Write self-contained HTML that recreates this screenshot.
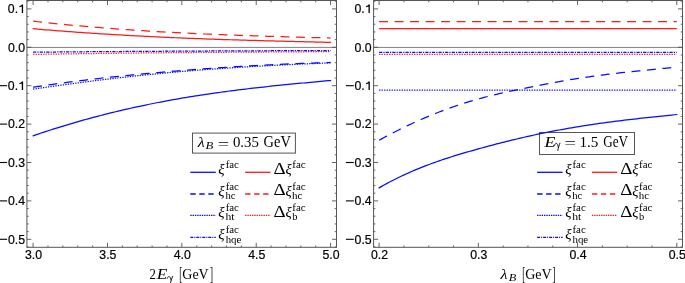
<!DOCTYPE html>
<html><head><meta charset="utf-8"><style>
html,body{margin:0;padding:0;background:#fff;}
body{width:685px;height:283px;overflow:hidden;font-family:"Liberation Sans",sans-serif;}
svg{display:block;will-change:transform;}
</style></head><body>
<svg width="685" height="283" viewBox="0 0 685 283">
<line x1="27.00" y1="47.40" x2="336.50" y2="47.40" stroke="#808080" stroke-width="1.0"/>
<line x1="373.60" y1="47.40" x2="682.50" y2="47.40" stroke="#808080" stroke-width="1.0"/>
<rect x="26.9" y="0.5" width="309.60" height="246.80" fill="none" stroke="#555555" stroke-width="1"/>
<line x1="26.90" y1="239.30" x2="31.40" y2="239.30" stroke="#555555" stroke-width="0.9"/>
<line x1="336.50" y1="239.30" x2="332.00" y2="239.30" stroke="#555555" stroke-width="0.9"/>
<line x1="26.90" y1="200.90" x2="31.40" y2="200.90" stroke="#555555" stroke-width="0.9"/>
<line x1="336.50" y1="200.90" x2="332.00" y2="200.90" stroke="#555555" stroke-width="0.9"/>
<line x1="26.90" y1="162.50" x2="31.40" y2="162.50" stroke="#555555" stroke-width="0.9"/>
<line x1="336.50" y1="162.50" x2="332.00" y2="162.50" stroke="#555555" stroke-width="0.9"/>
<line x1="26.90" y1="124.10" x2="31.40" y2="124.10" stroke="#555555" stroke-width="0.9"/>
<line x1="336.50" y1="124.10" x2="332.00" y2="124.10" stroke="#555555" stroke-width="0.9"/>
<line x1="26.90" y1="85.70" x2="31.40" y2="85.70" stroke="#555555" stroke-width="0.9"/>
<line x1="336.50" y1="85.70" x2="332.00" y2="85.70" stroke="#555555" stroke-width="0.9"/>
<line x1="26.90" y1="47.30" x2="31.40" y2="47.30" stroke="#555555" stroke-width="0.9"/>
<line x1="336.50" y1="47.30" x2="332.00" y2="47.30" stroke="#555555" stroke-width="0.9"/>
<line x1="26.90" y1="8.90" x2="31.40" y2="8.90" stroke="#555555" stroke-width="0.9"/>
<line x1="336.50" y1="8.90" x2="332.00" y2="8.90" stroke="#555555" stroke-width="0.9"/>
<line x1="26.90" y1="246.98" x2="28.70" y2="246.98" stroke="#555555" stroke-width="0.9"/>
<line x1="336.50" y1="246.98" x2="334.70" y2="246.98" stroke="#555555" stroke-width="0.9"/>
<line x1="26.90" y1="231.62" x2="28.70" y2="231.62" stroke="#555555" stroke-width="0.9"/>
<line x1="336.50" y1="231.62" x2="334.70" y2="231.62" stroke="#555555" stroke-width="0.9"/>
<line x1="26.90" y1="223.94" x2="28.70" y2="223.94" stroke="#555555" stroke-width="0.9"/>
<line x1="336.50" y1="223.94" x2="334.70" y2="223.94" stroke="#555555" stroke-width="0.9"/>
<line x1="26.90" y1="216.26" x2="28.70" y2="216.26" stroke="#555555" stroke-width="0.9"/>
<line x1="336.50" y1="216.26" x2="334.70" y2="216.26" stroke="#555555" stroke-width="0.9"/>
<line x1="26.90" y1="208.58" x2="28.70" y2="208.58" stroke="#555555" stroke-width="0.9"/>
<line x1="336.50" y1="208.58" x2="334.70" y2="208.58" stroke="#555555" stroke-width="0.9"/>
<line x1="26.90" y1="193.22" x2="28.70" y2="193.22" stroke="#555555" stroke-width="0.9"/>
<line x1="336.50" y1="193.22" x2="334.70" y2="193.22" stroke="#555555" stroke-width="0.9"/>
<line x1="26.90" y1="185.54" x2="28.70" y2="185.54" stroke="#555555" stroke-width="0.9"/>
<line x1="336.50" y1="185.54" x2="334.70" y2="185.54" stroke="#555555" stroke-width="0.9"/>
<line x1="26.90" y1="177.86" x2="28.70" y2="177.86" stroke="#555555" stroke-width="0.9"/>
<line x1="336.50" y1="177.86" x2="334.70" y2="177.86" stroke="#555555" stroke-width="0.9"/>
<line x1="26.90" y1="170.18" x2="28.70" y2="170.18" stroke="#555555" stroke-width="0.9"/>
<line x1="336.50" y1="170.18" x2="334.70" y2="170.18" stroke="#555555" stroke-width="0.9"/>
<line x1="26.90" y1="154.82" x2="28.70" y2="154.82" stroke="#555555" stroke-width="0.9"/>
<line x1="336.50" y1="154.82" x2="334.70" y2="154.82" stroke="#555555" stroke-width="0.9"/>
<line x1="26.90" y1="147.14" x2="28.70" y2="147.14" stroke="#555555" stroke-width="0.9"/>
<line x1="336.50" y1="147.14" x2="334.70" y2="147.14" stroke="#555555" stroke-width="0.9"/>
<line x1="26.90" y1="139.46" x2="28.70" y2="139.46" stroke="#555555" stroke-width="0.9"/>
<line x1="336.50" y1="139.46" x2="334.70" y2="139.46" stroke="#555555" stroke-width="0.9"/>
<line x1="26.90" y1="131.78" x2="28.70" y2="131.78" stroke="#555555" stroke-width="0.9"/>
<line x1="336.50" y1="131.78" x2="334.70" y2="131.78" stroke="#555555" stroke-width="0.9"/>
<line x1="26.90" y1="116.42" x2="28.70" y2="116.42" stroke="#555555" stroke-width="0.9"/>
<line x1="336.50" y1="116.42" x2="334.70" y2="116.42" stroke="#555555" stroke-width="0.9"/>
<line x1="26.90" y1="108.74" x2="28.70" y2="108.74" stroke="#555555" stroke-width="0.9"/>
<line x1="336.50" y1="108.74" x2="334.70" y2="108.74" stroke="#555555" stroke-width="0.9"/>
<line x1="26.90" y1="101.06" x2="28.70" y2="101.06" stroke="#555555" stroke-width="0.9"/>
<line x1="336.50" y1="101.06" x2="334.70" y2="101.06" stroke="#555555" stroke-width="0.9"/>
<line x1="26.90" y1="93.38" x2="28.70" y2="93.38" stroke="#555555" stroke-width="0.9"/>
<line x1="336.50" y1="93.38" x2="334.70" y2="93.38" stroke="#555555" stroke-width="0.9"/>
<line x1="26.90" y1="78.02" x2="28.70" y2="78.02" stroke="#555555" stroke-width="0.9"/>
<line x1="336.50" y1="78.02" x2="334.70" y2="78.02" stroke="#555555" stroke-width="0.9"/>
<line x1="26.90" y1="70.34" x2="28.70" y2="70.34" stroke="#555555" stroke-width="0.9"/>
<line x1="336.50" y1="70.34" x2="334.70" y2="70.34" stroke="#555555" stroke-width="0.9"/>
<line x1="26.90" y1="62.66" x2="28.70" y2="62.66" stroke="#555555" stroke-width="0.9"/>
<line x1="336.50" y1="62.66" x2="334.70" y2="62.66" stroke="#555555" stroke-width="0.9"/>
<line x1="26.90" y1="54.98" x2="28.70" y2="54.98" stroke="#555555" stroke-width="0.9"/>
<line x1="336.50" y1="54.98" x2="334.70" y2="54.98" stroke="#555555" stroke-width="0.9"/>
<line x1="26.90" y1="39.62" x2="28.70" y2="39.62" stroke="#555555" stroke-width="0.9"/>
<line x1="336.50" y1="39.62" x2="334.70" y2="39.62" stroke="#555555" stroke-width="0.9"/>
<line x1="26.90" y1="31.94" x2="28.70" y2="31.94" stroke="#555555" stroke-width="0.9"/>
<line x1="336.50" y1="31.94" x2="334.70" y2="31.94" stroke="#555555" stroke-width="0.9"/>
<line x1="26.90" y1="24.26" x2="28.70" y2="24.26" stroke="#555555" stroke-width="0.9"/>
<line x1="336.50" y1="24.26" x2="334.70" y2="24.26" stroke="#555555" stroke-width="0.9"/>
<line x1="26.90" y1="16.58" x2="28.70" y2="16.58" stroke="#555555" stroke-width="0.9"/>
<line x1="336.50" y1="16.58" x2="334.70" y2="16.58" stroke="#555555" stroke-width="0.9"/>
<line x1="26.90" y1="1.22" x2="28.70" y2="1.22" stroke="#555555" stroke-width="0.9"/>
<line x1="336.50" y1="1.22" x2="334.70" y2="1.22" stroke="#555555" stroke-width="0.9"/>
<line x1="33.10" y1="247.30" x2="33.10" y2="242.80" stroke="#555555" stroke-width="0.9"/>
<line x1="33.10" y1="0.50" x2="33.10" y2="5.00" stroke="#555555" stroke-width="0.9"/>
<line x1="107.47" y1="247.30" x2="107.47" y2="242.80" stroke="#555555" stroke-width="0.9"/>
<line x1="107.47" y1="0.50" x2="107.47" y2="5.00" stroke="#555555" stroke-width="0.9"/>
<line x1="181.85" y1="247.30" x2="181.85" y2="242.80" stroke="#555555" stroke-width="0.9"/>
<line x1="181.85" y1="0.50" x2="181.85" y2="5.00" stroke="#555555" stroke-width="0.9"/>
<line x1="256.23" y1="247.30" x2="256.23" y2="242.80" stroke="#555555" stroke-width="0.9"/>
<line x1="256.23" y1="0.50" x2="256.23" y2="5.00" stroke="#555555" stroke-width="0.9"/>
<line x1="330.60" y1="247.30" x2="330.60" y2="242.80" stroke="#555555" stroke-width="0.9"/>
<line x1="330.60" y1="0.50" x2="330.60" y2="5.00" stroke="#555555" stroke-width="0.9"/>
<line x1="47.98" y1="247.30" x2="47.98" y2="245.50" stroke="#555555" stroke-width="0.9"/>
<line x1="47.98" y1="0.50" x2="47.98" y2="2.30" stroke="#555555" stroke-width="0.9"/>
<line x1="62.85" y1="247.30" x2="62.85" y2="245.50" stroke="#555555" stroke-width="0.9"/>
<line x1="62.85" y1="0.50" x2="62.85" y2="2.30" stroke="#555555" stroke-width="0.9"/>
<line x1="77.72" y1="247.30" x2="77.72" y2="245.50" stroke="#555555" stroke-width="0.9"/>
<line x1="77.72" y1="0.50" x2="77.72" y2="2.30" stroke="#555555" stroke-width="0.9"/>
<line x1="92.60" y1="247.30" x2="92.60" y2="245.50" stroke="#555555" stroke-width="0.9"/>
<line x1="92.60" y1="0.50" x2="92.60" y2="2.30" stroke="#555555" stroke-width="0.9"/>
<line x1="122.35" y1="247.30" x2="122.35" y2="245.50" stroke="#555555" stroke-width="0.9"/>
<line x1="122.35" y1="0.50" x2="122.35" y2="2.30" stroke="#555555" stroke-width="0.9"/>
<line x1="137.23" y1="247.30" x2="137.23" y2="245.50" stroke="#555555" stroke-width="0.9"/>
<line x1="137.23" y1="0.50" x2="137.23" y2="2.30" stroke="#555555" stroke-width="0.9"/>
<line x1="152.10" y1="247.30" x2="152.10" y2="245.50" stroke="#555555" stroke-width="0.9"/>
<line x1="152.10" y1="0.50" x2="152.10" y2="2.30" stroke="#555555" stroke-width="0.9"/>
<line x1="166.97" y1="247.30" x2="166.97" y2="245.50" stroke="#555555" stroke-width="0.9"/>
<line x1="166.97" y1="0.50" x2="166.97" y2="2.30" stroke="#555555" stroke-width="0.9"/>
<line x1="196.72" y1="247.30" x2="196.72" y2="245.50" stroke="#555555" stroke-width="0.9"/>
<line x1="196.72" y1="0.50" x2="196.72" y2="2.30" stroke="#555555" stroke-width="0.9"/>
<line x1="211.60" y1="247.30" x2="211.60" y2="245.50" stroke="#555555" stroke-width="0.9"/>
<line x1="211.60" y1="0.50" x2="211.60" y2="2.30" stroke="#555555" stroke-width="0.9"/>
<line x1="226.47" y1="247.30" x2="226.47" y2="245.50" stroke="#555555" stroke-width="0.9"/>
<line x1="226.47" y1="0.50" x2="226.47" y2="2.30" stroke="#555555" stroke-width="0.9"/>
<line x1="241.35" y1="247.30" x2="241.35" y2="245.50" stroke="#555555" stroke-width="0.9"/>
<line x1="241.35" y1="0.50" x2="241.35" y2="2.30" stroke="#555555" stroke-width="0.9"/>
<line x1="271.10" y1="247.30" x2="271.10" y2="245.50" stroke="#555555" stroke-width="0.9"/>
<line x1="271.10" y1="0.50" x2="271.10" y2="2.30" stroke="#555555" stroke-width="0.9"/>
<line x1="285.98" y1="247.30" x2="285.98" y2="245.50" stroke="#555555" stroke-width="0.9"/>
<line x1="285.98" y1="0.50" x2="285.98" y2="2.30" stroke="#555555" stroke-width="0.9"/>
<line x1="300.85" y1="247.30" x2="300.85" y2="245.50" stroke="#555555" stroke-width="0.9"/>
<line x1="300.85" y1="0.50" x2="300.85" y2="2.30" stroke="#555555" stroke-width="0.9"/>
<line x1="315.73" y1="247.30" x2="315.73" y2="245.50" stroke="#555555" stroke-width="0.9"/>
<line x1="315.73" y1="0.50" x2="315.73" y2="2.30" stroke="#555555" stroke-width="0.9"/>
<line x1="-0.80" y1="239.30" x2="7.10" y2="239.30" stroke="#000" stroke-width="1.1"/>
<text x="25.00" y="243.60" text-anchor="end" font-family="Liberation Sans, sans-serif" stroke="#000" stroke-width="0.2" font-size="12.3">0.5</text>
<line x1="-0.80" y1="200.90" x2="7.10" y2="200.90" stroke="#000" stroke-width="1.1"/>
<text x="25.00" y="205.20" text-anchor="end" font-family="Liberation Sans, sans-serif" stroke="#000" stroke-width="0.2" font-size="12.3">0.4</text>
<line x1="-0.80" y1="162.50" x2="7.10" y2="162.50" stroke="#000" stroke-width="1.1"/>
<text x="25.00" y="166.80" text-anchor="end" font-family="Liberation Sans, sans-serif" stroke="#000" stroke-width="0.2" font-size="12.3">0.3</text>
<line x1="-0.80" y1="124.10" x2="7.10" y2="124.10" stroke="#000" stroke-width="1.1"/>
<text x="25.00" y="128.40" text-anchor="end" font-family="Liberation Sans, sans-serif" stroke="#000" stroke-width="0.2" font-size="12.3">0.2</text>
<line x1="-0.80" y1="85.70" x2="7.10" y2="85.70" stroke="#000" stroke-width="1.1"/>
<text x="18.10" y="90.00" text-anchor="end" font-family="Liberation Sans, sans-serif" stroke="#000" stroke-width="0.2" font-size="12.3">0.</text>
<path d="M22.45,90.00 L22.45,81.40 M22.80,81.60 C21.85,83.00 20.65,83.50 19.45,83.70" fill="none" stroke="#000" stroke-width="1.3"/>
<text x="25.00" y="51.60" text-anchor="end" font-family="Liberation Sans, sans-serif" stroke="#000" stroke-width="0.2" font-size="12.3">0.0</text>
<text x="18.10" y="13.20" text-anchor="end" font-family="Liberation Sans, sans-serif" stroke="#000" stroke-width="0.2" font-size="12.3">0.</text>
<path d="M22.45,13.00 L22.45,4.40 M22.80,4.60 C21.85,6.00 20.65,6.50 19.45,6.70" fill="none" stroke="#000" stroke-width="1.3"/>
<text x="33.55" y="259.2" text-anchor="middle" font-family="Liberation Sans, sans-serif" stroke="#000" stroke-width="0.2" font-size="12.3">3.0</text>
<text x="107.92" y="259.2" text-anchor="middle" font-family="Liberation Sans, sans-serif" stroke="#000" stroke-width="0.2" font-size="12.3">3.5</text>
<text x="182.30" y="259.2" text-anchor="middle" font-family="Liberation Sans, sans-serif" stroke="#000" stroke-width="0.2" font-size="12.3">4.0</text>
<text x="256.68" y="259.2" text-anchor="middle" font-family="Liberation Sans, sans-serif" stroke="#000" stroke-width="0.2" font-size="12.3">4.5</text>
<text x="331.05" y="259.2" text-anchor="middle" font-family="Liberation Sans, sans-serif" stroke="#000" stroke-width="0.2" font-size="12.3">5.0</text>
<rect x="373.6" y="0.5" width="308.90" height="246.80" fill="none" stroke="#555555" stroke-width="1"/>
<line x1="373.60" y1="239.30" x2="378.10" y2="239.30" stroke="#555555" stroke-width="0.9"/>
<line x1="682.50" y1="239.30" x2="678.00" y2="239.30" stroke="#555555" stroke-width="0.9"/>
<line x1="373.60" y1="200.90" x2="378.10" y2="200.90" stroke="#555555" stroke-width="0.9"/>
<line x1="682.50" y1="200.90" x2="678.00" y2="200.90" stroke="#555555" stroke-width="0.9"/>
<line x1="373.60" y1="162.50" x2="378.10" y2="162.50" stroke="#555555" stroke-width="0.9"/>
<line x1="682.50" y1="162.50" x2="678.00" y2="162.50" stroke="#555555" stroke-width="0.9"/>
<line x1="373.60" y1="124.10" x2="378.10" y2="124.10" stroke="#555555" stroke-width="0.9"/>
<line x1="682.50" y1="124.10" x2="678.00" y2="124.10" stroke="#555555" stroke-width="0.9"/>
<line x1="373.60" y1="85.70" x2="378.10" y2="85.70" stroke="#555555" stroke-width="0.9"/>
<line x1="682.50" y1="85.70" x2="678.00" y2="85.70" stroke="#555555" stroke-width="0.9"/>
<line x1="373.60" y1="47.30" x2="378.10" y2="47.30" stroke="#555555" stroke-width="0.9"/>
<line x1="682.50" y1="47.30" x2="678.00" y2="47.30" stroke="#555555" stroke-width="0.9"/>
<line x1="373.60" y1="8.90" x2="378.10" y2="8.90" stroke="#555555" stroke-width="0.9"/>
<line x1="682.50" y1="8.90" x2="678.00" y2="8.90" stroke="#555555" stroke-width="0.9"/>
<line x1="373.60" y1="246.98" x2="375.40" y2="246.98" stroke="#555555" stroke-width="0.9"/>
<line x1="682.50" y1="246.98" x2="680.70" y2="246.98" stroke="#555555" stroke-width="0.9"/>
<line x1="373.60" y1="231.62" x2="375.40" y2="231.62" stroke="#555555" stroke-width="0.9"/>
<line x1="682.50" y1="231.62" x2="680.70" y2="231.62" stroke="#555555" stroke-width="0.9"/>
<line x1="373.60" y1="223.94" x2="375.40" y2="223.94" stroke="#555555" stroke-width="0.9"/>
<line x1="682.50" y1="223.94" x2="680.70" y2="223.94" stroke="#555555" stroke-width="0.9"/>
<line x1="373.60" y1="216.26" x2="375.40" y2="216.26" stroke="#555555" stroke-width="0.9"/>
<line x1="682.50" y1="216.26" x2="680.70" y2="216.26" stroke="#555555" stroke-width="0.9"/>
<line x1="373.60" y1="208.58" x2="375.40" y2="208.58" stroke="#555555" stroke-width="0.9"/>
<line x1="682.50" y1="208.58" x2="680.70" y2="208.58" stroke="#555555" stroke-width="0.9"/>
<line x1="373.60" y1="193.22" x2="375.40" y2="193.22" stroke="#555555" stroke-width="0.9"/>
<line x1="682.50" y1="193.22" x2="680.70" y2="193.22" stroke="#555555" stroke-width="0.9"/>
<line x1="373.60" y1="185.54" x2="375.40" y2="185.54" stroke="#555555" stroke-width="0.9"/>
<line x1="682.50" y1="185.54" x2="680.70" y2="185.54" stroke="#555555" stroke-width="0.9"/>
<line x1="373.60" y1="177.86" x2="375.40" y2="177.86" stroke="#555555" stroke-width="0.9"/>
<line x1="682.50" y1="177.86" x2="680.70" y2="177.86" stroke="#555555" stroke-width="0.9"/>
<line x1="373.60" y1="170.18" x2="375.40" y2="170.18" stroke="#555555" stroke-width="0.9"/>
<line x1="682.50" y1="170.18" x2="680.70" y2="170.18" stroke="#555555" stroke-width="0.9"/>
<line x1="373.60" y1="154.82" x2="375.40" y2="154.82" stroke="#555555" stroke-width="0.9"/>
<line x1="682.50" y1="154.82" x2="680.70" y2="154.82" stroke="#555555" stroke-width="0.9"/>
<line x1="373.60" y1="147.14" x2="375.40" y2="147.14" stroke="#555555" stroke-width="0.9"/>
<line x1="682.50" y1="147.14" x2="680.70" y2="147.14" stroke="#555555" stroke-width="0.9"/>
<line x1="373.60" y1="139.46" x2="375.40" y2="139.46" stroke="#555555" stroke-width="0.9"/>
<line x1="682.50" y1="139.46" x2="680.70" y2="139.46" stroke="#555555" stroke-width="0.9"/>
<line x1="373.60" y1="131.78" x2="375.40" y2="131.78" stroke="#555555" stroke-width="0.9"/>
<line x1="682.50" y1="131.78" x2="680.70" y2="131.78" stroke="#555555" stroke-width="0.9"/>
<line x1="373.60" y1="116.42" x2="375.40" y2="116.42" stroke="#555555" stroke-width="0.9"/>
<line x1="682.50" y1="116.42" x2="680.70" y2="116.42" stroke="#555555" stroke-width="0.9"/>
<line x1="373.60" y1="108.74" x2="375.40" y2="108.74" stroke="#555555" stroke-width="0.9"/>
<line x1="682.50" y1="108.74" x2="680.70" y2="108.74" stroke="#555555" stroke-width="0.9"/>
<line x1="373.60" y1="101.06" x2="375.40" y2="101.06" stroke="#555555" stroke-width="0.9"/>
<line x1="682.50" y1="101.06" x2="680.70" y2="101.06" stroke="#555555" stroke-width="0.9"/>
<line x1="373.60" y1="93.38" x2="375.40" y2="93.38" stroke="#555555" stroke-width="0.9"/>
<line x1="682.50" y1="93.38" x2="680.70" y2="93.38" stroke="#555555" stroke-width="0.9"/>
<line x1="373.60" y1="78.02" x2="375.40" y2="78.02" stroke="#555555" stroke-width="0.9"/>
<line x1="682.50" y1="78.02" x2="680.70" y2="78.02" stroke="#555555" stroke-width="0.9"/>
<line x1="373.60" y1="70.34" x2="375.40" y2="70.34" stroke="#555555" stroke-width="0.9"/>
<line x1="682.50" y1="70.34" x2="680.70" y2="70.34" stroke="#555555" stroke-width="0.9"/>
<line x1="373.60" y1="62.66" x2="375.40" y2="62.66" stroke="#555555" stroke-width="0.9"/>
<line x1="682.50" y1="62.66" x2="680.70" y2="62.66" stroke="#555555" stroke-width="0.9"/>
<line x1="373.60" y1="54.98" x2="375.40" y2="54.98" stroke="#555555" stroke-width="0.9"/>
<line x1="682.50" y1="54.98" x2="680.70" y2="54.98" stroke="#555555" stroke-width="0.9"/>
<line x1="373.60" y1="39.62" x2="375.40" y2="39.62" stroke="#555555" stroke-width="0.9"/>
<line x1="682.50" y1="39.62" x2="680.70" y2="39.62" stroke="#555555" stroke-width="0.9"/>
<line x1="373.60" y1="31.94" x2="375.40" y2="31.94" stroke="#555555" stroke-width="0.9"/>
<line x1="682.50" y1="31.94" x2="680.70" y2="31.94" stroke="#555555" stroke-width="0.9"/>
<line x1="373.60" y1="24.26" x2="375.40" y2="24.26" stroke="#555555" stroke-width="0.9"/>
<line x1="682.50" y1="24.26" x2="680.70" y2="24.26" stroke="#555555" stroke-width="0.9"/>
<line x1="373.60" y1="16.58" x2="375.40" y2="16.58" stroke="#555555" stroke-width="0.9"/>
<line x1="682.50" y1="16.58" x2="680.70" y2="16.58" stroke="#555555" stroke-width="0.9"/>
<line x1="373.60" y1="1.22" x2="375.40" y2="1.22" stroke="#555555" stroke-width="0.9"/>
<line x1="682.50" y1="1.22" x2="680.70" y2="1.22" stroke="#555555" stroke-width="0.9"/>
<line x1="379.10" y1="247.30" x2="379.10" y2="242.80" stroke="#555555" stroke-width="0.9"/>
<line x1="379.10" y1="0.50" x2="379.10" y2="5.00" stroke="#555555" stroke-width="0.9"/>
<line x1="478.33" y1="247.30" x2="478.33" y2="242.80" stroke="#555555" stroke-width="0.9"/>
<line x1="478.33" y1="0.50" x2="478.33" y2="5.00" stroke="#555555" stroke-width="0.9"/>
<line x1="577.56" y1="247.30" x2="577.56" y2="242.80" stroke="#555555" stroke-width="0.9"/>
<line x1="577.56" y1="0.50" x2="577.56" y2="5.00" stroke="#555555" stroke-width="0.9"/>
<line x1="676.79" y1="247.30" x2="676.79" y2="242.80" stroke="#555555" stroke-width="0.9"/>
<line x1="676.79" y1="0.50" x2="676.79" y2="5.00" stroke="#555555" stroke-width="0.9"/>
<line x1="403.91" y1="247.30" x2="403.91" y2="245.50" stroke="#555555" stroke-width="0.9"/>
<line x1="403.91" y1="0.50" x2="403.91" y2="2.30" stroke="#555555" stroke-width="0.9"/>
<line x1="428.72" y1="247.30" x2="428.72" y2="245.50" stroke="#555555" stroke-width="0.9"/>
<line x1="428.72" y1="0.50" x2="428.72" y2="2.30" stroke="#555555" stroke-width="0.9"/>
<line x1="453.52" y1="247.30" x2="453.52" y2="245.50" stroke="#555555" stroke-width="0.9"/>
<line x1="453.52" y1="0.50" x2="453.52" y2="2.30" stroke="#555555" stroke-width="0.9"/>
<line x1="503.14" y1="247.30" x2="503.14" y2="245.50" stroke="#555555" stroke-width="0.9"/>
<line x1="503.14" y1="0.50" x2="503.14" y2="2.30" stroke="#555555" stroke-width="0.9"/>
<line x1="527.95" y1="247.30" x2="527.95" y2="245.50" stroke="#555555" stroke-width="0.9"/>
<line x1="527.95" y1="0.50" x2="527.95" y2="2.30" stroke="#555555" stroke-width="0.9"/>
<line x1="552.75" y1="247.30" x2="552.75" y2="245.50" stroke="#555555" stroke-width="0.9"/>
<line x1="552.75" y1="0.50" x2="552.75" y2="2.30" stroke="#555555" stroke-width="0.9"/>
<line x1="602.37" y1="247.30" x2="602.37" y2="245.50" stroke="#555555" stroke-width="0.9"/>
<line x1="602.37" y1="0.50" x2="602.37" y2="2.30" stroke="#555555" stroke-width="0.9"/>
<line x1="627.17" y1="247.30" x2="627.17" y2="245.50" stroke="#555555" stroke-width="0.9"/>
<line x1="627.17" y1="0.50" x2="627.17" y2="2.30" stroke="#555555" stroke-width="0.9"/>
<line x1="651.98" y1="247.30" x2="651.98" y2="245.50" stroke="#555555" stroke-width="0.9"/>
<line x1="651.98" y1="0.50" x2="651.98" y2="2.30" stroke="#555555" stroke-width="0.9"/>
<line x1="345.90" y1="239.30" x2="353.80" y2="239.30" stroke="#000" stroke-width="1.1"/>
<text x="371.70" y="243.60" text-anchor="end" font-family="Liberation Sans, sans-serif" stroke="#000" stroke-width="0.2" font-size="12.3">0.5</text>
<line x1="345.90" y1="200.90" x2="353.80" y2="200.90" stroke="#000" stroke-width="1.1"/>
<text x="371.70" y="205.20" text-anchor="end" font-family="Liberation Sans, sans-serif" stroke="#000" stroke-width="0.2" font-size="12.3">0.4</text>
<line x1="345.90" y1="162.50" x2="353.80" y2="162.50" stroke="#000" stroke-width="1.1"/>
<text x="371.70" y="166.80" text-anchor="end" font-family="Liberation Sans, sans-serif" stroke="#000" stroke-width="0.2" font-size="12.3">0.3</text>
<line x1="345.90" y1="124.10" x2="353.80" y2="124.10" stroke="#000" stroke-width="1.1"/>
<text x="371.70" y="128.40" text-anchor="end" font-family="Liberation Sans, sans-serif" stroke="#000" stroke-width="0.2" font-size="12.3">0.2</text>
<line x1="345.90" y1="85.70" x2="353.80" y2="85.70" stroke="#000" stroke-width="1.1"/>
<text x="364.80" y="90.00" text-anchor="end" font-family="Liberation Sans, sans-serif" stroke="#000" stroke-width="0.2" font-size="12.3">0.</text>
<path d="M369.15,90.00 L369.15,81.40 M369.50,81.60 C368.55,83.00 367.35,83.50 366.15,83.70" fill="none" stroke="#000" stroke-width="1.3"/>
<text x="371.70" y="51.60" text-anchor="end" font-family="Liberation Sans, sans-serif" stroke="#000" stroke-width="0.2" font-size="12.3">0.0</text>
<text x="364.80" y="13.20" text-anchor="end" font-family="Liberation Sans, sans-serif" stroke="#000" stroke-width="0.2" font-size="12.3">0.</text>
<path d="M369.15,13.00 L369.15,4.40 M369.50,4.60 C368.55,6.00 367.35,6.50 366.15,6.70" fill="none" stroke="#000" stroke-width="1.3"/>
<text x="379.55" y="259.2" text-anchor="middle" font-family="Liberation Sans, sans-serif" stroke="#000" stroke-width="0.2" font-size="12.3">0.2</text>
<text x="478.78" y="259.2" text-anchor="middle" font-family="Liberation Sans, sans-serif" stroke="#000" stroke-width="0.2" font-size="12.3">0.3</text>
<text x="578.01" y="259.2" text-anchor="middle" font-family="Liberation Sans, sans-serif" stroke="#000" stroke-width="0.2" font-size="12.3">0.4</text>
<text x="677.24" y="259.2" text-anchor="middle" font-family="Liberation Sans, sans-serif" stroke="#000" stroke-width="0.2" font-size="12.3">0.5</text>
<text transform="translate(149.49,278.60) scale(0.8500,1.0051)" x="0" y="0" font-family="Liberation Serif, serif" font-size="15.0" fill="#000">2</text>
<text transform="translate(156.77,278.60) scale(1.1458,1.0051)" x="0" y="0" font-family="Liberation Serif, serif" font-style="italic" font-size="15.0" fill="#000">E</text>
<path d="M167.27,278.31 C167.78,276.23 169.66,275.70 170.52,278.24 L171.09,279.99 M172.63,276.44 C171.95,278.11 170.86,280.25 170.52,282.67" fill="none" stroke="#000" stroke-width="0.9" stroke-linecap="round"/>
<text transform="translate(179.19,280.16) scale(0.5797,1.2520)" x="0" y="0" font-family="Liberation Serif, serif" font-size="15.0" fill="#000">[</text>
<text transform="translate(182.34,278.69) scale(0.9312,1.0348)" x="0" y="0" font-family="Liberation Serif, serif" font-size="15.0" fill="#000">GeV</text>
<text transform="translate(209.94,280.16) scale(0.6061,1.2520)" x="0" y="0" font-family="Liberation Serif, serif" font-size="15.0" fill="#000">]</text>
<text transform="translate(500.57,279.00) scale(1.0701,1.0095)" x="0" y="0" font-family="Liberation Serif, serif" font-style="italic" font-size="15.0" fill="#000">λ</text>
<text transform="translate(508.74,280.80) scale(1.2369,1.0308)" x="0" y="0" font-family="Liberation Serif, serif" font-style="italic" font-size="10" fill="#000">B</text>
<text transform="translate(522.29,280.16) scale(0.5797,1.2520)" x="0" y="0" font-family="Liberation Serif, serif" font-size="15.0" fill="#000">[</text>
<text transform="translate(525.24,278.69) scale(0.9348,1.0348)" x="0" y="0" font-family="Liberation Serif, serif" font-size="15.0" fill="#000">GeV</text>
<text transform="translate(552.44,280.16) scale(0.6061,1.2520)" x="0" y="0" font-family="Liberation Serif, serif" font-size="15.0" fill="#000">]</text>
<rect x="192.5" y="133.1" width="102.90" height="20.00" fill="white" stroke="#555" stroke-width="1"/>
<text transform="translate(197.87,147.40) scale(1.0701,1.0095)" x="0" y="0" font-family="Liberation Serif, serif" font-style="italic" font-size="15.0" fill="#000">λ</text>
<text transform="translate(205.48,149.40) scale(1.2738,1.0615)" x="0" y="0" font-family="Liberation Serif, serif" font-style="italic" font-size="10" fill="#000">B</text>
<text transform="translate(217.69,148.98) scale(1.3475,1.0400)" x="0" y="0" font-family="Liberation Serif, serif" font-size="15.0" fill="#000">=</text>
<text transform="translate(232.91,147.29) scale(0.9900,1.0348)" x="0" y="0" font-family="Liberation Serif, serif" font-size="15.0" fill="#000">0.35</text>
<text transform="translate(263.62,147.28) scale(0.9601,1.0746)" x="0" y="0" font-family="Liberation Serif, serif" font-size="15.0" fill="#000">GeV</text>
<line x1="190.30" y1="172.30" x2="215.80" y2="172.30" stroke="#0a0aff" stroke-width="1.3"/>
<text transform="translate(218.36,174.33) scale(0.9833,1.0268)" x="0" y="0" font-family="Liberation Serif, serif" font-style="italic" font-size="15.0" fill="#000">ξ</text>
<text transform="translate(225.67,167.61) scale(1.0862,0.9306)" x="0" y="0" font-family="Liberation Serif, serif" font-size="10" fill="#000">fac</text>
<line x1="245.10" y1="172.30" x2="270.50" y2="172.30" stroke="#ff1a1a" stroke-width="1.3"/>
<text transform="translate(273.44,173.50) scale(1.2632,1.0505)" x="0" y="0" font-family="Liberation Serif, serif" font-size="15.0" fill="#000">Δ</text>
<text transform="translate(285.56,174.33) scale(0.9667,1.0268)" x="0" y="0" font-family="Liberation Serif, serif" font-style="italic" font-size="15.0" fill="#000">ξ</text>
<text transform="translate(292.27,167.61) scale(1.0948,0.9306)" x="0" y="0" font-family="Liberation Serif, serif" font-size="10" fill="#000">fac</text>
<line x1="190.30" y1="194.00" x2="215.80" y2="194.00" stroke="#0a0aff" stroke-width="1.3" stroke-dasharray="5.4 3.6"/>
<text transform="translate(218.36,196.23) scale(0.9833,1.0268)" x="0" y="0" font-family="Liberation Serif, serif" font-style="italic" font-size="15.0" fill="#000">ξ</text>
<text transform="translate(225.67,189.51) scale(1.0862,0.9306)" x="0" y="0" font-family="Liberation Serif, serif" font-size="10" fill="#000">fac</text>
<text transform="translate(225.39,199.00) scale(1.0667,1.0286)" x="0" y="0" font-family="Liberation Serif, serif" font-size="10" fill="#000">hc</text>
<line x1="245.10" y1="194.00" x2="270.50" y2="194.00" stroke="#ff1a1a" stroke-width="1.3" stroke-dasharray="5.4 3.6"/>
<text transform="translate(273.44,195.40) scale(1.2632,1.0505)" x="0" y="0" font-family="Liberation Serif, serif" font-size="15.0" fill="#000">Δ</text>
<text transform="translate(285.56,196.23) scale(0.9667,1.0268)" x="0" y="0" font-family="Liberation Serif, serif" font-style="italic" font-size="15.0" fill="#000">ξ</text>
<text transform="translate(292.27,189.51) scale(1.0948,0.9306)" x="0" y="0" font-family="Liberation Serif, serif" font-size="10" fill="#000">fac</text>
<text transform="translate(291.89,199.00) scale(1.1000,1.0286)" x="0" y="0" font-family="Liberation Serif, serif" font-size="10" fill="#000">hc</text>
<line x1="190.30" y1="215.40" x2="215.80" y2="215.40" stroke="#0a0aff" stroke-width="1.3" stroke-dasharray="1.4 0.9"/>
<text transform="translate(218.36,217.43) scale(0.9833,1.0268)" x="0" y="0" font-family="Liberation Serif, serif" font-style="italic" font-size="15.0" fill="#000">ξ</text>
<text transform="translate(225.67,210.71) scale(1.0862,0.9306)" x="0" y="0" font-family="Liberation Serif, serif" font-size="10" fill="#000">fac</text>
<text transform="translate(225.38,220.30) scale(1.1711,1.0000)" x="0" y="0" font-family="Liberation Serif, serif" font-size="10" fill="#000">ht</text>
<line x1="245.10" y1="215.40" x2="270.50" y2="215.40" stroke="#ff1a1a" stroke-width="1.3" stroke-dasharray="1.4 0.9"/>
<text transform="translate(273.44,216.60) scale(1.2632,1.0505)" x="0" y="0" font-family="Liberation Serif, serif" font-size="15.0" fill="#000">Δ</text>
<text transform="translate(285.56,217.43) scale(0.9667,1.0268)" x="0" y="0" font-family="Liberation Serif, serif" font-style="italic" font-size="15.0" fill="#000">ξ</text>
<text transform="translate(292.27,210.71) scale(1.0948,0.9306)" x="0" y="0" font-family="Liberation Serif, serif" font-size="10" fill="#000">fac</text>
<text transform="translate(292.20,220.30) scale(1.0435,1.0000)" x="0" y="0" font-family="Liberation Serif, serif" font-size="10" fill="#000">b</text>
<line x1="190.30" y1="237.40" x2="215.80" y2="237.40" stroke="#0a0aff" stroke-width="1.3" stroke-dasharray="3.0 1.0 1.0 1.0"/>
<text transform="translate(218.36,239.23) scale(0.9833,1.0268)" x="0" y="0" font-family="Liberation Serif, serif" font-style="italic" font-size="15.0" fill="#000">ξ</text>
<text transform="translate(225.67,232.51) scale(1.0862,0.9306)" x="0" y="0" font-family="Liberation Serif, serif" font-size="10" fill="#000">fac</text>
<text transform="translate(225.69,242.64) scale(1.0857,1.1222)" x="0" y="0" font-family="Liberation Serif, serif" font-size="10" fill="#000">hqe</text>
<rect x="539.5" y="132.5" width="95.00" height="22.00" fill="white" stroke="#555" stroke-width="1"/>
<text transform="translate(544.51,146.70) scale(1.1809,1.0359)" x="0" y="0" font-family="Liberation Serif, serif" font-style="italic" font-size="15.0" fill="#000">E</text>
<path d="M554.57,145.37 C555.08,142.96 556.97,142.33 557.82,145.30 L558.39,147.32 M559.93,143.19 C559.25,145.14 558.16,147.64 557.82,150.44" fill="none" stroke="#000" stroke-width="0.9" stroke-linecap="round"/>
<text transform="translate(564.39,147.89) scale(1.3475,1.0133)" x="0" y="0" font-family="Liberation Serif, serif" font-size="15.0" fill="#000">=</text>
<text transform="translate(579.43,146.84) scale(1.0119,1.0348)" x="0" y="0" font-family="Liberation Serif, serif" font-size="15.0" fill="#000">1.5</text>
<text transform="translate(603.27,146.68) scale(0.8768,1.0647)" x="0" y="0" font-family="Liberation Serif, serif" font-size="15.0" fill="#000">GeV</text>
<line x1="537.10" y1="172.30" x2="562.60" y2="172.30" stroke="#0a0aff" stroke-width="1.3"/>
<text transform="translate(565.16,174.33) scale(0.9833,1.0268)" x="0" y="0" font-family="Liberation Serif, serif" font-style="italic" font-size="15.0" fill="#000">ξ</text>
<text transform="translate(572.47,167.61) scale(1.0862,0.9306)" x="0" y="0" font-family="Liberation Serif, serif" font-size="10" fill="#000">fac</text>
<line x1="591.90" y1="172.30" x2="617.30" y2="172.30" stroke="#ff1a1a" stroke-width="1.3"/>
<text transform="translate(620.24,173.50) scale(1.2632,1.0505)" x="0" y="0" font-family="Liberation Serif, serif" font-size="15.0" fill="#000">Δ</text>
<text transform="translate(632.36,174.33) scale(0.9667,1.0268)" x="0" y="0" font-family="Liberation Serif, serif" font-style="italic" font-size="15.0" fill="#000">ξ</text>
<text transform="translate(639.07,167.61) scale(1.0948,0.9306)" x="0" y="0" font-family="Liberation Serif, serif" font-size="10" fill="#000">fac</text>
<line x1="537.10" y1="194.00" x2="562.60" y2="194.00" stroke="#0a0aff" stroke-width="1.3" stroke-dasharray="5.4 3.6"/>
<text transform="translate(565.16,196.23) scale(0.9833,1.0268)" x="0" y="0" font-family="Liberation Serif, serif" font-style="italic" font-size="15.0" fill="#000">ξ</text>
<text transform="translate(572.47,189.51) scale(1.0862,0.9306)" x="0" y="0" font-family="Liberation Serif, serif" font-size="10" fill="#000">fac</text>
<text transform="translate(572.19,199.00) scale(1.0667,1.0286)" x="0" y="0" font-family="Liberation Serif, serif" font-size="10" fill="#000">hc</text>
<line x1="591.90" y1="194.00" x2="617.30" y2="194.00" stroke="#ff1a1a" stroke-width="1.3" stroke-dasharray="5.4 3.6"/>
<text transform="translate(620.24,195.40) scale(1.2632,1.0505)" x="0" y="0" font-family="Liberation Serif, serif" font-size="15.0" fill="#000">Δ</text>
<text transform="translate(632.36,196.23) scale(0.9667,1.0268)" x="0" y="0" font-family="Liberation Serif, serif" font-style="italic" font-size="15.0" fill="#000">ξ</text>
<text transform="translate(639.07,189.51) scale(1.0948,0.9306)" x="0" y="0" font-family="Liberation Serif, serif" font-size="10" fill="#000">fac</text>
<text transform="translate(638.69,199.00) scale(1.1000,1.0286)" x="0" y="0" font-family="Liberation Serif, serif" font-size="10" fill="#000">hc</text>
<line x1="537.10" y1="215.40" x2="562.60" y2="215.40" stroke="#0a0aff" stroke-width="1.3" stroke-dasharray="1.4 0.9"/>
<text transform="translate(565.16,217.43) scale(0.9833,1.0268)" x="0" y="0" font-family="Liberation Serif, serif" font-style="italic" font-size="15.0" fill="#000">ξ</text>
<text transform="translate(572.47,210.71) scale(1.0862,0.9306)" x="0" y="0" font-family="Liberation Serif, serif" font-size="10" fill="#000">fac</text>
<text transform="translate(572.18,220.30) scale(1.1711,1.0000)" x="0" y="0" font-family="Liberation Serif, serif" font-size="10" fill="#000">ht</text>
<line x1="591.90" y1="215.40" x2="617.30" y2="215.40" stroke="#ff1a1a" stroke-width="1.3" stroke-dasharray="1.4 0.9"/>
<text transform="translate(620.24,216.60) scale(1.2632,1.0505)" x="0" y="0" font-family="Liberation Serif, serif" font-size="15.0" fill="#000">Δ</text>
<text transform="translate(632.36,217.43) scale(0.9667,1.0268)" x="0" y="0" font-family="Liberation Serif, serif" font-style="italic" font-size="15.0" fill="#000">ξ</text>
<text transform="translate(639.07,210.71) scale(1.0948,0.9306)" x="0" y="0" font-family="Liberation Serif, serif" font-size="10" fill="#000">fac</text>
<text transform="translate(639.00,220.30) scale(1.0435,1.0000)" x="0" y="0" font-family="Liberation Serif, serif" font-size="10" fill="#000">b</text>
<line x1="537.10" y1="237.40" x2="562.60" y2="237.40" stroke="#0a0aff" stroke-width="1.3" stroke-dasharray="3.0 1.0 1.0 1.0"/>
<text transform="translate(565.16,239.23) scale(0.9833,1.0268)" x="0" y="0" font-family="Liberation Serif, serif" font-style="italic" font-size="15.0" fill="#000">ξ</text>
<text transform="translate(572.47,232.51) scale(1.0862,0.9306)" x="0" y="0" font-family="Liberation Serif, serif" font-size="10" fill="#000">fac</text>
<text transform="translate(572.49,242.64) scale(1.0857,1.1222)" x="0" y="0" font-family="Liberation Serif, serif" font-size="10" fill="#000">hqe</text>
<path d="M33.10,54.40 L35.60,54.36 L38.10,54.33 L40.60,54.29 L43.10,54.25 L45.60,54.21 L48.10,54.17 L50.60,54.14 L53.10,54.10 L55.60,54.06 L58.10,54.02 L60.60,53.99 L63.10,53.95 L65.60,53.92 L68.10,53.88 L70.60,53.85 L73.10,53.81 L75.60,53.78 L78.10,53.74 L80.60,53.71 L83.10,53.68 L85.60,53.64 L88.10,53.61 L90.60,53.58 L93.10,53.55 L95.60,53.51 L98.10,53.48 L100.60,53.45 L103.10,53.42 L105.60,53.39 L108.10,53.36 L110.60,53.33 L113.10,53.30 L115.60,53.27 L118.10,53.24 L120.60,53.21 L123.10,53.18 L125.60,53.16 L128.10,53.13 L130.60,53.10 L133.10,53.07 L135.60,53.05 L138.10,53.02 L140.60,52.99 L143.10,52.97 L145.60,52.94 L148.10,52.92 L150.60,52.89 L153.10,52.86 L155.60,52.84 L158.10,52.82 L160.60,52.79 L163.10,52.77 L165.60,52.74 L168.10,52.72 L170.60,52.70 L173.10,52.68 L175.60,52.65 L178.10,52.63 L180.60,52.61 L183.10,52.59 L185.60,52.57 L188.10,52.55 L190.60,52.53 L193.10,52.51 L195.60,52.49 L198.10,52.47 L200.60,52.45 L203.10,52.43 L205.60,52.41 L208.10,52.39 L210.60,52.37 L213.10,52.35 L215.60,52.33 L218.10,52.32 L220.60,52.30 L223.10,52.28 L225.60,52.26 L228.10,52.25 L230.60,52.23 L233.10,52.21 L235.60,52.20 L238.10,52.18 L240.60,52.16 L243.10,52.15 L245.60,52.13 L248.10,52.11 L250.60,52.10 L253.10,52.08 L255.60,52.07 L258.10,52.05 L260.60,52.03 L263.10,52.02 L265.60,52.00 L268.10,51.99 L270.60,51.97 L273.10,51.96 L275.60,51.94 L278.10,51.93 L280.60,51.91 L283.10,51.90 L285.60,51.88 L288.10,51.87 L290.60,51.85 L293.10,51.83 L295.60,51.82 L298.10,51.80 L300.60,51.79 L303.10,51.77 L305.60,51.76 L308.10,51.74 L310.60,51.73 L313.10,51.71 L315.60,51.70 L318.10,51.68 L320.60,51.66 L323.10,51.65 L325.60,51.63 L328.10,51.62 L330.60,51.60" fill="none" stroke="#ff1a1a" stroke-width="1.25" stroke-dasharray="1.3 1.2" stroke-linejoin="round"/>
<path d="M33.10,52.22 L35.60,52.19 L38.10,52.17 L40.60,52.14 L43.10,52.12 L45.60,52.10 L48.10,52.08 L50.60,52.05 L53.10,52.03 L55.60,52.01 L58.10,51.99 L60.60,51.97 L63.10,51.95 L65.60,51.92 L68.10,51.90 L70.60,51.88 L73.10,51.86 L75.60,51.84 L78.10,51.82 L80.60,51.80 L83.10,51.78 L85.60,51.76 L88.10,51.74 L90.60,51.72 L93.10,51.71 L95.60,51.69 L98.10,51.67 L100.60,51.65 L103.10,51.63 L105.60,51.61 L108.10,51.60 L110.60,51.58 L113.10,51.56 L115.60,51.54 L118.10,51.53 L120.60,51.51 L123.10,51.49 L125.60,51.48 L128.10,51.46 L130.60,51.44 L133.10,51.43 L135.60,51.41 L138.10,51.40 L140.60,51.38 L143.10,51.36 L145.60,51.35 L148.10,51.33 L150.60,51.32 L153.10,51.30 L155.60,51.29 L158.10,51.27 L160.60,51.26 L163.10,51.24 L165.60,51.23 L168.10,51.22 L170.60,51.20 L173.10,51.19 L175.60,51.17 L178.10,51.16 L180.60,51.15 L183.10,51.13 L185.60,51.12 L188.10,51.11 L190.60,51.09 L193.10,51.08 L195.60,51.07 L198.10,51.05 L200.60,51.04 L203.10,51.03 L205.60,51.02 L208.10,51.00 L210.60,50.99 L213.10,50.98 L215.60,50.97 L218.10,50.96 L220.60,50.94 L223.10,50.93 L225.60,50.92 L228.10,50.91 L230.60,50.90 L233.10,50.89 L235.60,50.88 L238.10,50.87 L240.60,50.86 L243.10,50.85 L245.60,50.84 L248.10,50.83 L250.60,50.82 L253.10,50.81 L255.60,50.80 L258.10,50.79 L260.60,50.78 L263.10,50.77 L265.60,50.76 L268.10,50.75 L270.60,50.74 L273.10,50.74 L275.60,50.73 L278.10,50.72 L280.60,50.71 L283.10,50.70 L285.60,50.70 L288.10,50.69 L290.60,50.68 L293.10,50.68 L295.60,50.67 L298.10,50.66 L300.60,50.66 L303.10,50.65 L305.60,50.65 L308.10,50.64 L310.60,50.64 L313.10,50.63 L315.60,50.63 L318.10,50.62 L320.60,50.62 L323.10,50.61 L325.60,50.61 L328.10,50.61 L330.60,50.60" fill="none" stroke="#0a0aff" stroke-width="1.25" stroke-dasharray="3.2 1.1 1.2 1.1" stroke-linejoin="round"/>
<path d="M33.10,89.16 L35.60,88.79 L38.10,88.42 L40.60,88.06 L43.10,87.70 L45.60,87.34 L48.10,86.98 L50.60,86.62 L53.10,86.27 L55.60,85.92 L58.10,85.57 L60.60,85.22 L63.10,84.88 L65.60,84.54 L68.10,84.20 L70.60,83.86 L73.10,83.53 L75.60,83.19 L78.10,82.86 L80.60,82.54 L83.10,82.21 L85.60,81.89 L88.10,81.57 L90.60,81.25 L93.10,80.94 L95.60,80.62 L98.10,80.31 L100.60,80.00 L103.10,79.70 L105.60,79.40 L108.10,79.10 L110.60,78.80 L113.10,78.51 L115.60,78.21 L118.10,77.92 L120.60,77.64 L123.10,77.35 L125.60,77.07 L128.10,76.79 L130.60,76.52 L133.10,76.24 L135.60,75.97 L138.10,75.71 L140.60,75.44 L143.10,75.18 L145.60,74.92 L148.10,74.66 L150.60,74.41 L153.10,74.16 L155.60,73.91 L158.10,73.67 L160.60,73.43 L163.10,73.19 L165.60,72.95 L168.10,72.72 L170.60,72.49 L173.10,72.26 L175.60,72.04 L178.10,71.82 L180.60,71.60 L183.10,71.39 L185.60,71.17 L188.10,70.97 L190.60,70.76 L193.10,70.56 L195.60,70.36 L198.10,70.16 L200.60,69.97 L203.10,69.78 L205.60,69.59 L208.10,69.40 L210.60,69.22 L213.10,69.04 L215.60,68.86 L218.10,68.69 L220.60,68.51 L223.10,68.34 L225.60,68.18 L228.10,68.01 L230.60,67.85 L233.10,67.69 L235.60,67.53 L238.10,67.37 L240.60,67.22 L243.10,67.07 L245.60,66.92 L248.10,66.77 L250.60,66.63 L253.10,66.48 L255.60,66.34 L258.10,66.20 L260.60,66.07 L263.10,65.93 L265.60,65.80 L268.10,65.67 L270.60,65.54 L273.10,65.41 L275.60,65.28 L278.10,65.16 L280.60,65.03 L283.10,64.91 L285.60,64.79 L288.10,64.67 L290.60,64.56 L293.10,64.44 L295.60,64.33 L298.10,64.21 L300.60,64.10 L303.10,63.99 L305.60,63.88 L308.10,63.78 L310.60,63.67 L313.10,63.56 L315.60,63.46 L318.10,63.36 L320.60,63.25 L323.10,63.15 L325.60,63.05 L328.10,62.95 L330.60,62.85" fill="none" stroke="#0a0aff" stroke-width="1.25" stroke-dasharray="1.3 1.2" stroke-linejoin="round"/>
<path d="M33.10,87.24 L35.60,86.85 L38.10,86.47 L40.60,86.10 L43.10,85.72 L45.60,85.36 L48.10,84.99 L50.60,84.63 L53.10,84.28 L55.60,83.93 L58.10,83.58 L60.60,83.24 L63.10,82.90 L65.60,82.56 L68.10,82.23 L70.60,81.90 L73.10,81.58 L75.60,81.26 L78.10,80.94 L80.60,80.63 L83.10,80.32 L85.60,80.01 L88.10,79.71 L90.60,79.41 L93.10,79.12 L95.60,78.82 L98.10,78.54 L100.60,78.25 L103.10,77.97 L105.60,77.69 L108.10,77.41 L110.60,77.14 L113.10,76.87 L115.60,76.61 L118.10,76.34 L120.60,76.08 L123.10,75.82 L125.60,75.57 L128.10,75.32 L130.60,75.07 L133.10,74.82 L135.60,74.58 L138.10,74.34 L140.60,74.10 L143.10,73.87 L145.60,73.64 L148.10,73.41 L150.60,73.18 L153.10,72.95 L155.60,72.73 L158.10,72.51 L160.60,72.29 L163.10,72.08 L165.60,71.86 L168.10,71.65 L170.60,71.44 L173.10,71.24 L175.60,71.03 L178.10,70.83 L180.60,70.63 L183.10,70.43 L185.60,70.24 L188.10,70.04 L190.60,69.85 L193.10,69.66 L195.60,69.47 L198.10,69.29 L200.60,69.10 L203.10,68.92 L205.60,68.74 L208.10,68.56 L210.60,68.39 L213.10,68.21 L215.60,68.04 L218.10,67.87 L220.60,67.70 L223.10,67.54 L225.60,67.37 L228.10,67.21 L230.60,67.05 L233.10,66.89 L235.60,66.74 L238.10,66.59 L240.60,66.43 L243.10,66.29 L245.60,66.14 L248.10,65.99 L250.60,65.85 L253.10,65.71 L255.60,65.57 L258.10,65.44 L260.60,65.30 L263.10,65.17 L265.60,65.04 L268.10,64.92 L270.60,64.79 L273.10,64.67 L275.60,64.55 L278.10,64.43 L280.60,64.31 L283.10,64.20 L285.60,64.09 L288.10,63.98 L290.60,63.87 L293.10,63.77 L295.60,63.66 L298.10,63.56 L300.60,63.47 L303.10,63.37 L305.60,63.28 L308.10,63.19 L310.60,63.10 L313.10,63.01 L315.60,62.93 L318.10,62.84 L320.60,62.76 L323.10,62.69 L325.60,62.61 L328.10,62.54 L330.60,62.47" fill="none" stroke="#0a0aff" stroke-width="1.25" stroke-dasharray="8.9 6.6" stroke-linejoin="round"/>
<path d="M33.10,135.81 L35.60,134.95 L38.10,134.10 L40.60,133.26 L43.10,132.42 L45.60,131.60 L48.10,130.78 L50.60,129.97 L53.10,129.17 L55.60,128.37 L58.10,127.59 L60.60,126.81 L63.10,126.05 L65.60,125.29 L68.10,124.54 L70.60,123.79 L73.10,123.06 L75.60,122.33 L78.10,121.61 L80.60,120.90 L83.10,120.19 L85.60,119.50 L88.10,118.81 L90.60,118.13 L93.10,117.45 L95.60,116.79 L98.10,116.13 L100.60,115.48 L103.10,114.84 L105.60,114.20 L108.10,113.58 L110.60,112.96 L113.10,112.34 L115.60,111.74 L118.10,111.14 L120.60,110.55 L123.10,109.96 L125.60,109.38 L128.10,108.81 L130.60,108.25 L133.10,107.69 L135.60,107.15 L138.10,106.60 L140.60,106.07 L143.10,105.54 L145.60,105.02 L148.10,104.50 L150.60,103.99 L153.10,103.49 L155.60,103.00 L158.10,102.51 L160.60,102.02 L163.10,101.55 L165.60,101.08 L168.10,100.62 L170.60,100.16 L173.10,99.71 L175.60,99.26 L178.10,98.83 L180.60,98.39 L183.10,97.97 L185.60,97.55 L188.10,97.13 L190.60,96.73 L193.10,96.32 L195.60,95.93 L198.10,95.54 L200.60,95.15 L203.10,94.77 L205.60,94.40 L208.10,94.03 L210.60,93.66 L213.10,93.30 L215.60,92.95 L218.10,92.60 L220.60,92.25 L223.10,91.91 L225.60,91.58 L228.10,91.25 L230.60,90.92 L233.10,90.60 L235.60,90.28 L238.10,89.97 L240.60,89.66 L243.10,89.35 L245.60,89.05 L248.10,88.75 L250.60,88.46 L253.10,88.17 L255.60,87.88 L258.10,87.60 L260.60,87.32 L263.10,87.04 L265.60,86.77 L268.10,86.50 L270.60,86.23 L273.10,85.97 L275.60,85.71 L278.10,85.45 L280.60,85.19 L283.10,84.94 L285.60,84.69 L288.10,84.44 L290.60,84.20 L293.10,83.95 L295.60,83.71 L298.10,83.47 L300.60,83.24 L303.10,83.00 L305.60,82.77 L308.10,82.54 L310.60,82.31 L313.10,82.08 L315.60,81.85 L318.10,81.63 L320.60,81.40 L323.10,81.18 L325.60,80.96 L328.10,80.74 L330.60,80.52" fill="none" stroke="#0a0aff" stroke-width="1.25" stroke-linecap="round" stroke-linejoin="round"/>
<path d="M33.10,21.19 L35.60,21.47 L38.10,21.75 L40.60,22.02 L43.10,22.29 L45.60,22.56 L48.10,22.82 L50.60,23.08 L53.10,23.34 L55.60,23.60 L58.10,23.85 L60.60,24.10 L63.10,24.34 L65.60,24.59 L68.10,24.83 L70.60,25.06 L73.10,25.30 L75.60,25.53 L78.10,25.75 L80.60,25.98 L83.10,26.20 L85.60,26.42 L88.10,26.64 L90.60,26.85 L93.10,27.06 L95.60,27.27 L98.10,27.47 L100.60,27.67 L103.10,27.87 L105.60,28.07 L108.10,28.26 L110.60,28.45 L113.10,28.64 L115.60,28.83 L118.10,29.01 L120.60,29.19 L123.10,29.37 L125.60,29.55 L128.10,29.72 L130.60,29.89 L133.10,30.06 L135.60,30.23 L138.10,30.39 L140.60,30.55 L143.10,30.71 L145.60,30.87 L148.10,31.03 L150.60,31.18 L153.10,31.33 L155.60,31.48 L158.10,31.62 L160.60,31.76 L163.10,31.91 L165.60,32.05 L168.10,32.18 L170.60,32.32 L173.10,32.45 L175.60,32.58 L178.10,32.71 L180.60,32.84 L183.10,32.96 L185.60,33.09 L188.10,33.21 L190.60,33.33 L193.10,33.44 L195.60,33.56 L198.10,33.67 L200.60,33.78 L203.10,33.90 L205.60,34.00 L208.10,34.11 L210.60,34.22 L213.10,34.32 L215.60,34.42 L218.10,34.52 L220.60,34.62 L223.10,34.72 L225.60,34.82 L228.10,34.91 L230.60,35.01 L233.10,35.10 L235.60,35.19 L238.10,35.28 L240.60,35.37 L243.10,35.45 L245.60,35.54 L248.10,35.63 L250.60,35.71 L253.10,35.79 L255.60,35.87 L258.10,35.96 L260.60,36.04 L263.10,36.11 L265.60,36.19 L268.10,36.27 L270.60,36.35 L273.10,36.42 L275.60,36.50 L278.10,36.57 L280.60,36.64 L283.10,36.72 L285.60,36.79 L288.10,36.86 L290.60,36.93 L293.10,37.00 L295.60,37.07 L298.10,37.14 L300.60,37.21 L303.10,37.28 L305.60,37.34 L308.10,37.41 L310.60,37.48 L313.10,37.55 L315.60,37.61 L318.10,37.68 L320.60,37.74 L323.10,37.81 L325.60,37.88 L328.10,37.94 L330.60,38.01" fill="none" stroke="#ff1a1a" stroke-width="1.25" stroke-dasharray="8.9 6.6" stroke-linejoin="round"/>
<path d="M33.10,28.71 L35.60,28.93 L38.10,29.14 L40.60,29.35 L43.10,29.56 L45.60,29.77 L48.10,29.97 L50.60,30.17 L53.10,30.37 L55.60,30.57 L58.10,30.77 L60.60,30.96 L63.10,31.15 L65.60,31.34 L68.10,31.53 L70.60,31.71 L73.10,31.90 L75.60,32.08 L78.10,32.26 L80.60,32.43 L83.10,32.61 L85.60,32.78 L88.10,32.95 L90.60,33.12 L93.10,33.29 L95.60,33.45 L98.10,33.61 L100.60,33.77 L103.10,33.93 L105.60,34.09 L108.10,34.24 L110.60,34.40 L113.10,34.55 L115.60,34.70 L118.10,34.84 L120.60,34.99 L123.10,35.13 L125.60,35.28 L128.10,35.42 L130.60,35.55 L133.10,35.69 L135.60,35.83 L138.10,35.96 L140.60,36.09 L143.10,36.22 L145.60,36.35 L148.10,36.47 L150.60,36.60 L153.10,36.72 L155.60,36.84 L158.10,36.96 L160.60,37.08 L163.10,37.19 L165.60,37.31 L168.10,37.42 L170.60,37.53 L173.10,37.64 L175.60,37.75 L178.10,37.85 L180.60,37.96 L183.10,38.06 L185.60,38.16 L188.10,38.26 L190.60,38.36 L193.10,38.45 L195.60,38.55 L198.10,38.64 L200.60,38.74 L203.10,38.83 L205.60,38.92 L208.10,39.01 L210.60,39.09 L213.10,39.18 L215.60,39.27 L218.10,39.35 L220.60,39.43 L223.10,39.51 L225.60,39.59 L228.10,39.67 L230.60,39.75 L233.10,39.83 L235.60,39.91 L238.10,39.98 L240.60,40.06 L243.10,40.13 L245.60,40.20 L248.10,40.27 L250.60,40.35 L253.10,40.42 L255.60,40.49 L258.10,40.55 L260.60,40.62 L263.10,40.69 L265.60,40.76 L268.10,40.82 L270.60,40.89 L273.10,40.96 L275.60,41.02 L278.10,41.09 L280.60,41.15 L283.10,41.21 L285.60,41.28 L288.10,41.34 L290.60,41.40 L293.10,41.47 L295.60,41.53 L298.10,41.59 L300.60,41.65 L303.10,41.71 L305.60,41.77 L308.10,41.83 L310.60,41.90 L313.10,41.96 L315.60,42.02 L318.10,42.08 L320.60,42.14 L323.10,42.20 L325.60,42.26 L328.10,42.32 L330.60,42.38" fill="none" stroke="#ff1a1a" stroke-width="1.25" stroke-linecap="round" stroke-linejoin="round"/>
<line x1="379.10" y1="54.44" x2="676.79" y2="54.44" stroke="#ff1a1a" stroke-width="1.25" stroke-dasharray="1.3 1.2"/>
<line x1="379.10" y1="52.29" x2="676.79" y2="52.29" stroke="#0a0aff" stroke-width="1.25" stroke-dasharray="3.2 1.1 1.2 1.1"/>
<line x1="379.10" y1="90.19" x2="676.79" y2="90.19" stroke="#0a0aff" stroke-width="1.25" stroke-dasharray="1.3 1.2"/>
<path d="M379.10,140.23 L381.60,138.85 L384.10,137.49 L386.60,136.15 L389.11,134.83 L391.61,133.52 L394.11,132.24 L396.61,130.96 L399.11,129.71 L401.61,128.47 L404.12,127.25 L406.62,126.05 L409.12,124.87 L411.62,123.70 L414.12,122.55 L416.62,121.42 L419.13,120.30 L421.63,119.21 L424.13,118.13 L426.63,117.06 L429.13,116.02 L431.63,114.99 L434.14,113.98 L436.64,112.98 L439.14,112.01 L441.64,111.05 L444.14,110.11 L446.64,109.18 L449.14,108.28 L451.65,107.39 L454.15,106.52 L456.65,105.66 L459.15,104.83 L461.65,104.01 L464.15,103.20 L466.66,102.42 L469.16,101.65 L471.66,100.90 L474.16,100.17 L476.66,99.45 L479.16,98.76 L481.67,98.07 L484.17,97.41 L486.67,96.76 L489.17,96.13 L491.67,95.51 L494.17,94.90 L496.68,94.31 L499.18,93.72 L501.68,93.15 L504.18,92.59 L506.68,92.04 L509.18,91.50 L511.68,90.96 L514.19,90.43 L516.69,89.91 L519.19,89.39 L521.69,88.88 L524.19,88.38 L526.69,87.87 L529.20,87.37 L531.70,86.87 L534.20,86.37 L536.70,85.88 L539.20,85.39 L541.70,84.90 L544.21,84.42 L546.71,83.94 L549.21,83.46 L551.71,82.99 L554.21,82.53 L556.71,82.07 L559.21,81.62 L561.72,81.17 L564.22,80.73 L566.72,80.30 L569.22,79.88 L571.72,79.46 L574.22,79.05 L576.73,78.65 L579.23,78.26 L581.73,77.88 L584.23,77.50 L586.73,77.14 L589.23,76.78 L591.74,76.43 L594.24,76.08 L596.74,75.75 L599.24,75.42 L601.74,75.09 L604.24,74.77 L606.75,74.46 L609.25,74.16 L611.75,73.86 L614.25,73.56 L616.75,73.27 L619.25,72.99 L621.75,72.70 L624.26,72.43 L626.76,72.15 L629.26,71.88 L631.76,71.61 L634.26,71.35 L636.76,71.09 L639.27,70.83 L641.77,70.57 L644.27,70.31 L646.77,70.06 L649.27,69.80 L651.77,69.55 L654.28,69.30 L656.78,69.04 L659.28,68.79 L661.78,68.54 L664.28,68.28 L666.78,68.03 L669.29,67.77 L671.79,67.52 L674.29,67.26 L676.79,67.00" fill="none" stroke="#0a0aff" stroke-width="1.25" stroke-dasharray="8.9 6.6" stroke-linejoin="round"/>
<path d="M379.10,187.84 L381.60,186.41 L384.10,185.00 L386.60,183.63 L389.11,182.29 L391.61,180.98 L394.11,179.70 L396.61,178.45 L399.11,177.22 L401.61,176.02 L404.12,174.85 L406.62,173.71 L409.12,172.59 L411.62,171.49 L414.12,170.42 L416.62,169.37 L419.13,168.35 L421.63,167.34 L424.13,166.36 L426.63,165.40 L429.13,164.46 L431.63,163.53 L434.14,162.63 L436.64,161.74 L439.14,160.87 L441.64,160.01 L444.14,159.18 L446.64,158.35 L449.14,157.54 L451.65,156.75 L454.15,155.96 L456.65,155.19 L459.15,154.43 L461.65,153.68 L464.15,152.94 L466.66,152.21 L469.16,151.49 L471.66,150.78 L474.16,150.07 L476.66,149.37 L479.16,148.68 L481.67,147.99 L484.17,147.30 L486.67,146.63 L489.17,145.96 L491.67,145.29 L494.17,144.63 L496.68,143.98 L499.18,143.33 L501.68,142.69 L504.18,142.06 L506.68,141.43 L509.18,140.81 L511.68,140.20 L514.19,139.59 L516.69,138.99 L519.19,138.40 L521.69,137.81 L524.19,137.24 L526.69,136.67 L529.20,136.11 L531.70,135.56 L534.20,135.01 L536.70,134.47 L539.20,133.94 L541.70,133.42 L544.21,132.91 L546.71,132.40 L549.21,131.91 L551.71,131.42 L554.21,130.93 L556.71,130.46 L559.21,129.99 L561.72,129.53 L564.22,129.08 L566.72,128.63 L569.22,128.19 L571.72,127.76 L574.22,127.34 L576.73,126.92 L579.23,126.52 L581.73,126.12 L584.23,125.72 L586.73,125.33 L589.23,124.95 L591.74,124.58 L594.24,124.21 L596.74,123.85 L599.24,123.49 L601.74,123.14 L604.24,122.80 L606.75,122.46 L609.25,122.13 L611.75,121.80 L614.25,121.47 L616.75,121.16 L619.25,120.84 L621.75,120.53 L624.26,120.23 L626.76,119.93 L629.26,119.63 L631.76,119.33 L634.26,119.04 L636.76,118.76 L639.27,118.48 L641.77,118.19 L644.27,117.92 L646.77,117.64 L649.27,117.37 L651.77,117.10 L654.28,116.83 L656.78,116.57 L659.28,116.31 L661.78,116.04 L664.28,115.78 L666.78,115.52 L669.29,115.27 L671.79,115.01 L674.29,114.75 L676.79,114.50" fill="none" stroke="#0a0aff" stroke-width="1.25" stroke-linecap="round" stroke-linejoin="round"/>
<line x1="379.10" y1="21.61" x2="676.79" y2="21.61" stroke="#ff1a1a" stroke-width="1.25" stroke-dasharray="8.9 6.6"/>
<line x1="379.10" y1="28.71" x2="676.79" y2="28.71" stroke="#ff1a1a" stroke-width="1.25"/>
</svg>
</body></html>
